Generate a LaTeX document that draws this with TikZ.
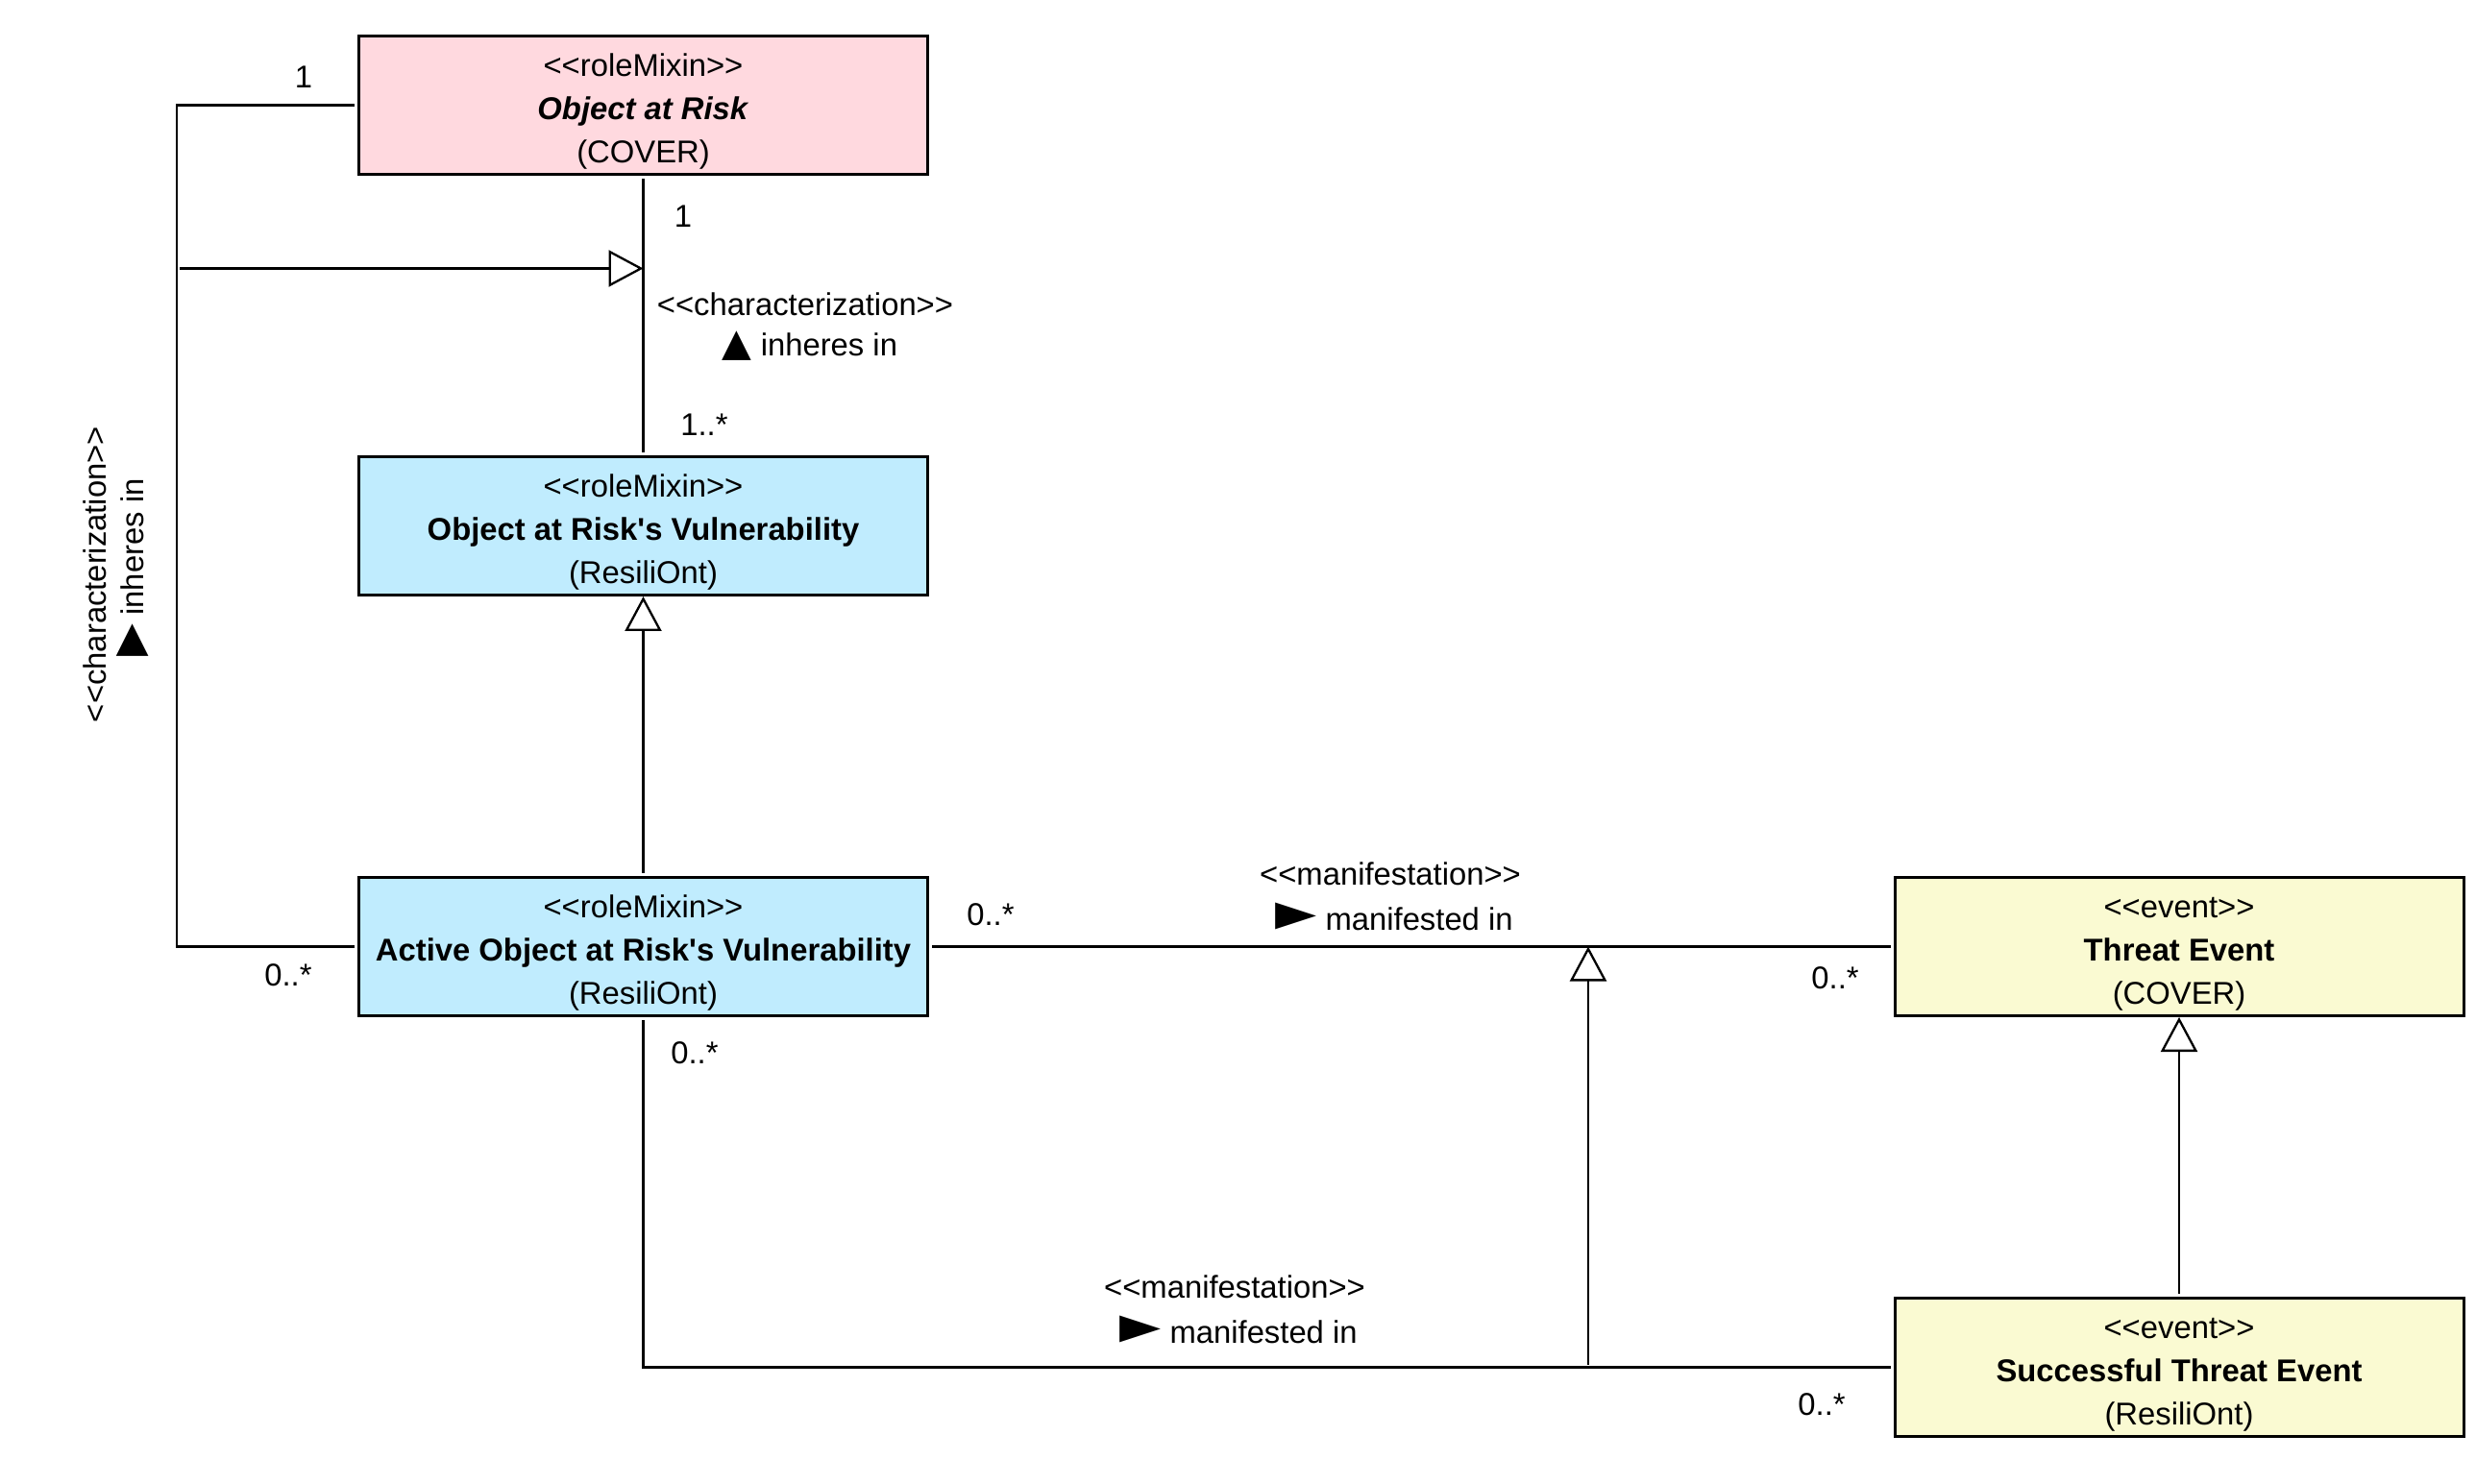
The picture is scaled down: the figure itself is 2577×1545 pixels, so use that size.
\documentclass[tikz,border=0pt]{standalone}
\usepackage{fontspec}
\setmainfont{Liberation Sans}
\newfontfamily\symfont{DejaVu Sans}
\usetikzlibrary{arrows.meta}
\newcommand{\stereo}[1]{\rule{0pt}{18pt}<\kern0pt<#1>\kern0pt>}
\newcommand{\rdright}{{\symfont\fontsize{28}{20}\selectfont ►}}
\newcommand{\rdturn}{{\symfont\fontsize{22}{20}\selectfont ▶}}
\newcommand{\rdup}{{\symfont\fontsize{20}{20}\selectfont ▲}}
\definecolor{riskpink}{RGB}{255,217,223}
\definecolor{vulnblue}{RGB}{192,236,254}
\definecolor{eventyellow}{RGB}{250,250,210}
\tikzset{
  cls/.style={draw, line width=1.5pt, minimum width=296pt, minimum height=72pt, align=center, inner sep=0pt},
  lbl/.style={inner sep=0pt},
  assoc/.style={line width=1.15pt, shorten <=1.5pt, shorten >=1.5pt},
  gen/.style={line width=1.15pt, shorten <=1.5pt, -{Triangle[open,length=18pt,width=19pt]}}
}
\begin{document}
\begin{tikzpicture}[x=0.5pt, y=-0.5pt, font=\fontsize{16.4}{22.5}\selectfont]
\useasboundingbox (0,0) rectangle (2577,1545);

\node[cls, fill=riskpink] (oar) at (669.5,109.5) {\stereo{roleMixin}\\\textbf{\textit{Object at Risk}}\\(COVER)};
\node[cls, fill=vulnblue] (oarv) at (669.5,547.5) {\stereo{roleMixin}\\\textbf{Object at Risk\textquotesingle s Vulnerability}\\(ResiliOnt)};
\node[cls, fill=vulnblue] (aoarv) at (669.5,985.5) {\stereo{roleMixin}\\\textbf{Active Object at Risk\textquotesingle s Vulnerability}\\(ResiliOnt)};
\node[cls, fill=eventyellow] (te) at (2268,985.5) {\stereo{event}\\\textbf{Threat Event}\\(COVER)};
\node[cls, fill=eventyellow] (ste) at (2268,1423.5) {\stereo{event}\\\textbf{Successful Threat Event}\\(ResiliOnt)};

% bends of the left characterization
\coordinate (lt) at (184,109.5);
\coordinate (lb) at (184,985.5);
\coordinate (lg) at (184,279.5);
\coordinate (bg) at (1653,1423.5);

\draw[assoc] (oar.south) -- (oarv.north);
\draw[assoc] (oar.west) -- (lt) -- (lb) -- (aoarv.west);
\draw[gen] (lg) -- (lg -| oar.south);
\draw[gen] (aoarv.north) -- (oarv.south);
\draw[assoc] (aoarv.east) -- (te.west);
\draw[assoc] (aoarv.south) |- (ste.west);
\draw[gen] (bg) -- (bg |- te.west);
\draw[gen] (ste.north) -- (te.south);

% labels
\node[lbl] (m1) at (316,80) {1};
\node[lbl] (m2) at (711,225) {1};
\node[lbl] (st1) at (838,317) {<\kern0pt<characterization>\kern0pt>};
\node[lbl] (rd1) at (843,360) {\rdup\ inheres in};
\node[lbl] (m3) at (733,442) {1..*};
\node[lbl, rotate=90] (st0) at (99,598) {<\kern0pt<characterization>\kern0pt>};
\node[lbl, rotate=90] (rd0) at (138,591) {\rdturn\ inheres in};
\node[lbl] (m4) at (300,1015) {0..*};
\node[lbl] (m5) at (1031,952) {0..*};
\node[lbl] (st2) at (1447,910) {<\kern0pt<manifestation>\kern0pt>};
\node[lbl] (rd2) at (1451,954) {\rdright\ manifested in};
\node[lbl] (m6) at (1910,1018) {0..*};
\node[lbl] (m7) at (723,1096) {0..*};
\node[lbl] (st3) at (1285,1340) {<\kern0pt<manifestation>\kern0pt>};
\node[lbl] (rd3) at (1289,1384) {\rdright\ manifested in};
\node[lbl] (m8) at (1896,1462) {0..*};
\end{tikzpicture}
\end{document}
